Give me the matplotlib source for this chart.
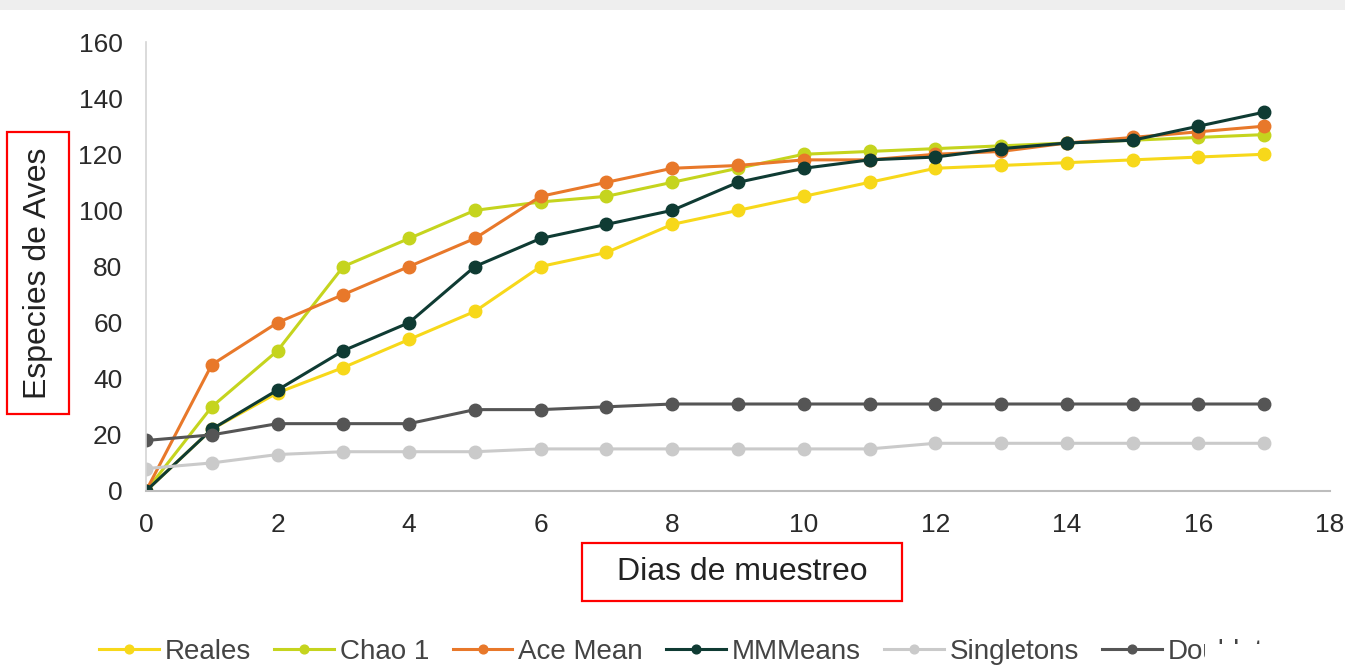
import matplotlib
matplotlib.use("Agg")
from matplotlib import pyplot as plt
from matplotlib.patches import Rectangle

plt.rcParams['font.family'] = ['Liberation Sans', 'DejaVu Sans']

dias = list(range(0, 18))
reales = [0, 22, 35, 44, 54, 64, 80, 85, 95, 100, 105, 110, 115, 116, 117, 118, 119, 120]
chao1 = [0, 30, 50, 80, 90, 100, 103, 105, 110, 115, 120, 121, 122, 123, 124, 125, 126, 127]
ace_mean = [0, 45, 60, 70, 80, 90, 105, 110, 115, 116, 118, 118, 120, 121, 124, 126, 128, 130]
mmmeans = [0, 22, 36, 50, 60, 80, 90, 95, 100, 110, 115, 118, 119, 122, 124, 125, 130, 135]
singletons = [8, 10, 13, 14, 14, 14, 15, 15, 15, 15, 15, 15, 17, 17, 17, 17, 17, 17]
doubletons = [18, 20, 24, 24, 24, 29, 29, 30, 31, 31, 31, 31, 31, 31, 31, 31, 31, 31]

series = [
    ("Reales", reales, "#F7D81A"),
    ("Chao 1", chao1, "#C5D41E"),
    ("Ace Mean", ace_mean, "#E8782A"),
    ("MMMeans", mmmeans, "#0F3B33"),
    ("Singletons", singletons, "#CACACA"),
    ("Doubletons", doubletons, "#555555"),
]

fig = plt.figure(figsize=(13.45, 6.66), dpi=100)
ax = fig.add_axes([146/1345, 1-491/666, (1330-146)/1345, (491-42)/666])

for name, vals, col in series:
    ax.plot(dias, vals, color=col, lw=2.2, marker="o", ms=9, label=name)

ax.set_xlim(0, 18)
ax.set_ylim(0, 160)
ax.set_xticks(range(0, 19, 2))
ax.set_yticks(range(0, 161, 20))
ax.tick_params(length=0, labelsize=19, colors="#2a2a2a")
ax.tick_params(axis="y", pad=17)
ax.tick_params(axis="x", pad=16)
for s in ["top", "right"]:
    ax.spines[s].set_visible(False)
ax.spines["left"].set_color("#d4d4d4")
ax.spines["bottom"].set_color("#bdbdbd")
ax.spines["left"].set_linewidth(1.2)
ax.spines["bottom"].set_linewidth(1.5)

# etiquetas de ejes en coordenadas de figura
fig.text(38/1345, 1-273/666, "Especies de Aves", rotation=90, ha="center", va="center",
         fontsize=23, color="#222222")
fig.text(742/1345, 1-572/666, "Dias de muestreo", ha="center", va="center",
         fontsize=23, color="#222222")
fig.patches.append(Rectangle((7/1345, 1-414/666), 62/1345, 282/666, transform=fig.transFigure,
                             fill=False, ec="#ff0000", lw=1.6, figure=fig))
fig.patches.append(Rectangle((582/1345, 1-601/666), 320/1345, 58/666, transform=fig.transFigure,
                             fill=False, ec="#ff0000", lw=1.6, figure=fig))

fig.legend(loc="center", bbox_to_anchor=(0.523, 1-652/666), ncol=6, frameon=False,
           fontsize=20, handlelength=2.15, handletextpad=0.2, columnspacing=0.85,
           markerscale=0.7, labelcolor="#444444")

# recuadro blanco que tapa parte de la leyenda
fig.patches.append(Rectangle((1205/1345, 0), 140/1345, 22/666, transform=fig.transFigure,
                             fc="white", ec="none", zorder=10, figure=fig))
# franja gris difusa arriba
fig.patches.append(Rectangle((0, 1-10/666), 1, 10/666, transform=fig.transFigure,
                             fc="#eeeeee", ec="none", figure=fig))

fig.savefig("out.png", dpi=100)
